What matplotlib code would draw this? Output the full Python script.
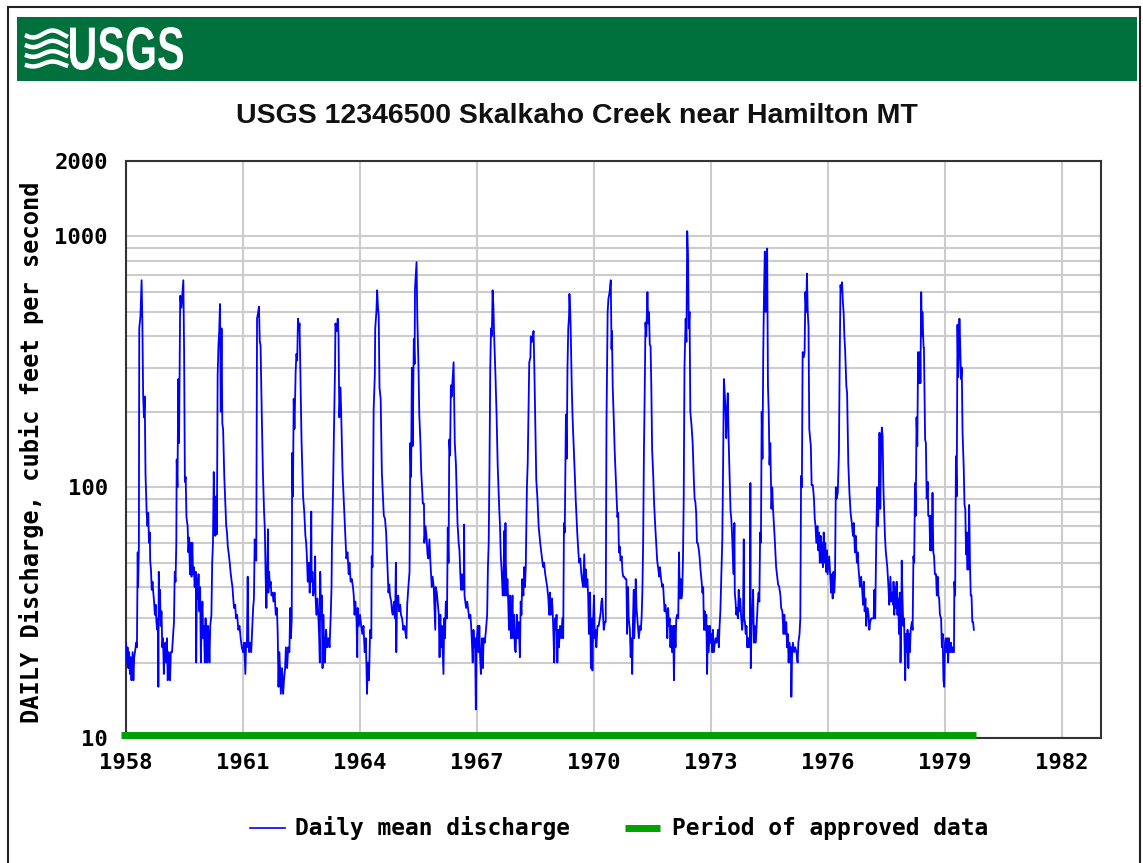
import numpy as np
import matplotlib.pyplot as plt
from matplotlib.lines import Line2D
from matplotlib.patches import Rectangle, PathPatch
from matplotlib.textpath import TextPath
from matplotlib.font_manager import FontProperties
from matplotlib.ticker import LogLocator, NullFormatter
from matplotlib import transforms

# Daily mean discharge, cubic feet per second
# (decimal year, cfs)
flow_1958_1961 = [
    (1958.00, 24), (1958.02, 20), (1958.04, 23), (1958.06, 19), (1958.08, 22),
    (1958.10, 18), (1958.12, 21), (1958.14, 17), (1958.17, 22), (1958.19, 17),
    (1958.21, 21), (1958.23, 22), (1958.26, 24), (1958.28, 23), (1958.30, 55),
    (1958.31, 40), (1958.33, 58), (1958.34, 430), (1958.37, 480), (1958.40, 669),
    (1958.42, 450), (1958.44, 230), (1958.46, 190), (1958.48, 230), (1958.50, 113),
    (1958.53, 79), (1958.55, 70), (1958.57, 79), (1958.59, 60), (1958.61, 66),
    (1958.62, 51), (1958.64, 47), (1958.66, 39), (1958.68, 42), (1958.70, 38),
    (1958.72, 35), (1958.74, 31), (1958.76, 34), (1958.78, 29), (1958.80, 27),
    (1958.82, 30), (1958.83, 16), (1958.84, 46), (1958.86, 30), (1958.87, 39),
    (1958.89, 28), (1958.91, 32), (1958.93, 23), (1958.95, 25), (1958.97, 18),
    (1958.99, 22), (1959.01, 24), (1959.03, 20), (1959.05, 25), (1959.07, 17),
    (1959.09, 22), (1959.11, 19), (1959.13, 17), (1959.15, 22), (1959.18, 22),
    (1959.21, 26), (1959.23, 29), (1959.25, 46), (1959.27, 42), (1959.29, 60),
    (1959.30, 129), (1959.32, 100), (1959.34, 270), (1959.36, 150), (1959.39, 580),
    (1959.42, 520), (1959.45, 600), (1959.47, 669), (1959.49, 346), (1959.51, 105),
    (1959.53, 110), (1959.55, 76), (1959.58, 70), (1959.60, 55), (1959.62, 63),
    (1959.64, 45), (1959.66, 60), (1959.68, 44), (1959.70, 60), (1959.72, 45),
    (1959.74, 48), (1959.76, 40), (1959.79, 46), (1959.80, 20), (1959.82, 43),
    (1959.84, 36), (1959.86, 45), (1959.88, 32), (1959.90, 40), (1959.92, 20),
    (1959.94, 30), (1959.96, 35), (1959.98, 25), (1960.00, 28), (1960.02, 20),
    (1960.04, 30), (1960.06, 24), (1960.08, 20), (1960.10, 28), (1960.12, 25),
    (1960.14, 20), (1960.16, 28), (1960.19, 31), (1960.21, 50), (1960.23, 60),
    (1960.25, 115), (1960.27, 75), (1960.29, 64), (1960.31, 92), (1960.33, 65),
    (1960.35, 280), (1960.37, 366), (1960.39, 420), (1960.41, 538), (1960.43, 200),
    (1960.45, 430), (1960.47, 180), (1960.49, 170), (1960.52, 110), (1960.54, 92),
    (1960.57, 70), (1960.59, 66), (1960.61, 58), (1960.63, 55), (1960.66, 50),
    (1960.68, 46), (1960.71, 42), (1960.73, 40), (1960.75, 36), (1960.77, 33),
    (1960.80, 34), (1960.82, 30), (1960.85, 31), (1960.88, 27), (1960.91, 28),
    (1960.94, 25), (1960.97, 23), (1961.00, 22), (1961.03, 24), (1961.06, 18),
    (1961.08, 24), (1961.10, 23), (1961.12, 44), (1961.14, 24), (1961.16, 22),
    (1961.18, 24), (1961.21, 22), (1961.24, 28), (1961.26, 33), (1961.28, 36),
    (1961.30, 62), (1961.32, 55), (1961.34, 51), (1961.36, 470), (1961.39, 500),
    (1961.41, 525), (1961.43, 380), (1961.45, 370), (1961.48, 200), (1961.51, 115),
    (1961.54, 80), (1961.56, 68), (1961.58, 44), (1961.60, 33), (1961.62, 45),
    (1961.64, 68), (1961.65, 38), (1961.67, 46), (1961.69, 40), (1961.71, 42),
    (1961.73, 37), (1961.76, 38), (1961.78, 35),
]

flow_1962_1965 = [
    (1961.81, 38), (1961.84, 31), (1961.87, 33), (1961.89, 26), (1961.91, 16),
    (1961.93, 22), (1961.95, 19), (1961.97, 15), (1962.00, 19), (1962.03, 15),
    (1962.05, 17), (1962.08, 19), (1962.10, 23), (1962.13, 19), (1962.16, 23),
    (1962.19, 22), (1962.21, 33), (1962.23, 25), (1962.25, 30), (1962.26, 137),
    (1962.28, 92), (1962.30, 225), (1962.32, 171), (1962.35, 290), (1962.37, 340),
    (1962.39, 320), (1962.41, 470), (1962.43, 420), (1962.45, 450), (1962.47, 300),
    (1962.50, 155), (1962.54, 92), (1962.57, 80), (1962.60, 64), (1962.62, 60),
    (1962.64, 52), (1962.66, 42), (1962.69, 50), (1962.71, 38), (1962.73, 45),
    (1962.75, 80), (1962.76, 42), (1962.78, 46), (1962.80, 37), (1962.83, 40),
    (1962.85, 53), (1962.86, 37), (1962.88, 31), (1962.91, 36), (1962.93, 31),
    (1962.95, 26), (1962.97, 20), (1962.98, 46), (1963.00, 30), (1963.02, 37),
    (1963.04, 19), (1963.06, 31), (1963.08, 24), (1963.10, 20), (1963.13, 27),
    (1963.16, 23), (1963.19, 25), (1963.22, 23), (1963.25, 31), (1963.27, 40),
    (1963.28, 58), (1963.31, 100), (1963.33, 160), (1963.36, 300), (1963.37, 450),
    (1963.40, 420), (1963.43, 470), (1963.45, 400), (1963.47, 190), (1963.50, 250),
    (1963.52, 190), (1963.55, 118), (1963.56, 107), (1963.60, 77), (1963.62, 66),
    (1963.65, 52), (1963.68, 55), (1963.71, 45), (1963.73, 50), (1963.76, 42),
    (1963.79, 43), (1963.82, 40), (1963.84, 37), (1963.86, 31), (1963.88, 35),
    (1963.91, 30), (1963.93, 21), (1963.94, 33), (1963.97, 28), (1964.00, 31),
    (1964.03, 28), (1964.06, 26), (1964.09, 28), (1964.12, 22), (1964.15, 25),
    (1964.18, 15), (1964.20, 20), (1964.23, 17), (1964.25, 23), (1964.26, 27),
    (1964.29, 25), (1964.30, 53), (1964.32, 48), (1964.35, 205), (1964.38, 280),
    (1964.39, 430), (1964.42, 500), (1964.44, 610), (1964.46, 524), (1964.48, 480),
    (1964.50, 250), (1964.53, 225), (1964.55, 146), (1964.56, 115), (1964.59, 90),
    (1964.61, 77), (1964.64, 75), (1964.67, 66), (1964.70, 50), (1964.71, 46),
    (1964.73, 38), (1964.75, 41), (1964.77, 37), (1964.80, 35), (1964.82, 32),
    (1964.84, 31), (1964.87, 35), (1964.90, 30), (1964.92, 50), (1964.93, 22),
    (1964.95, 36), (1964.98, 37), (1965.00, 32), (1965.03, 34), (1965.05, 31),
    (1965.08, 30), (1965.11, 27), (1965.14, 28), (1965.17, 26), (1965.19, 25),
    (1965.21, 34), (1965.24, 40), (1965.27, 46), (1965.29, 150), (1965.31, 110),
    (1965.33, 300), (1965.35, 146), (1965.38, 390), (1965.40, 310), (1965.41, 620),
    (1965.43, 700), (1965.45, 790), (1965.47, 470), (1965.50, 300), (1965.52, 195),
    (1965.55, 150), (1965.57, 115), (1965.60, 94), (1965.61, 86), (1965.64, 86),
    (1965.65, 60), (1965.68, 70), (1965.71, 62), (1965.73, 54), (1965.75, 52),
]

flow_1966_1969 = [
    (1965.78, 62), (1965.80, 52), (1965.82, 46), (1965.84, 40), (1965.86, 44),
    (1965.89, 40), (1965.93, 27), (1965.94, 40), (1965.97, 38), (1965.99, 35),
    (1966.02, 31), (1966.04, 21), (1966.06, 31), (1966.08, 23), (1966.10, 28),
    (1966.14, 18), (1966.16, 30), (1966.18, 25), (1966.20, 35), (1966.23, 30),
    (1966.25, 69), (1966.27, 50), (1966.29, 155), (1966.31, 134), (1966.33, 255),
    (1966.35, 230), (1966.38, 280), (1966.40, 315), (1966.42, 199), (1966.43, 151),
    (1966.46, 123), (1966.50, 72), (1966.53, 60), (1966.55, 56), (1966.57, 46),
    (1966.59, 39), (1966.61, 45), (1966.63, 39), (1966.66, 40), (1966.67, 71),
    (1966.68, 37), (1966.72, 33), (1966.75, 35), (1966.78, 32), (1966.80, 30),
    (1966.83, 31), (1966.85, 28), (1966.87, 24), (1966.89, 20), (1966.91, 27),
    (1966.93, 23), (1966.95, 25), (1966.97, 13), (1966.99, 24), (1967.02, 28),
    (1967.04, 22), (1967.06, 28), (1967.08, 21), (1967.10, 18), (1967.13, 25),
    (1967.15, 19), (1967.17, 25), (1967.20, 24), (1967.23, 27), (1967.26, 31),
    (1967.28, 48), (1967.30, 60), (1967.32, 120), (1967.34, 300), (1967.36, 430),
    (1967.38, 400), (1967.40, 610), (1967.42, 530), (1967.44, 400), (1967.47, 290),
    (1967.50, 200), (1967.53, 123), (1967.57, 82), (1967.59, 70), (1967.61, 53),
    (1967.63, 47), (1967.66, 37), (1967.68, 45), (1967.70, 67), (1967.71, 37),
    (1967.73, 72), (1967.74, 50), (1967.76, 37), (1967.78, 43), (1967.80, 35),
    (1967.82, 27), (1967.84, 37), (1967.87, 25), (1967.89, 30), (1967.91, 37),
    (1967.93, 25), (1967.95, 31), (1967.97, 23), (1967.99, 22), (1968.02, 31),
    (1968.04, 25), (1968.07, 29), (1968.10, 21), (1968.12, 35), (1968.14, 31),
    (1968.16, 43), (1968.19, 37), (1968.21, 48), (1968.23, 40), (1968.25, 48),
    (1968.28, 100), (1968.30, 125), (1968.32, 200), (1968.34, 315), (1968.37, 330),
    (1968.38, 400), (1968.41, 380), (1968.43, 400), (1968.45, 420), (1968.47, 300),
    (1968.49, 199), (1968.52, 107), (1968.55, 90), (1968.58, 70), (1968.60, 65),
    (1968.62, 60), (1968.65, 55), (1968.68, 50), (1968.70, 48), (1968.72, 50),
    (1968.75, 45), (1968.78, 42), (1968.80, 40), (1968.83, 36), (1968.85, 31),
    (1968.87, 38), (1968.89, 31), (1968.92, 36), (1968.94, 32), (1968.96, 26),
    (1968.98, 20), (1969.00, 30), (1969.02, 27), (1969.04, 31), (1969.06, 20),
    (1969.08, 27), (1969.10, 23), (1969.13, 28), (1969.16, 25), (1969.19, 30),
    (1969.21, 25), (1969.23, 72), (1969.25, 66), (1969.28, 195), (1969.30, 130),
    (1969.32, 300), (1969.34, 430), (1969.36, 480), (1969.37, 590), (1969.39, 500),
    (1969.40, 445), (1969.43, 250), (1969.45, 190), (1969.48, 146), (1969.51, 110),
    (1969.53, 90), (1969.57, 66), (1969.60, 55), (1969.62, 50), (1969.65, 52),
    (1969.67, 46), (1969.69, 43), (1969.72, 40),
]

flow_1970_1973 = [
    (1969.75, 54), (1969.77, 40), (1969.79, 47), (1969.81, 40), (1969.83, 43),
    (1969.85, 37), (1969.87, 26), (1969.90, 38), (1969.92, 19), (1969.94, 30),
    (1969.96, 18.6), (1969.98, 30), (1970.00, 37), (1970.02, 25), (1970.04, 27),
    (1970.06, 23), (1970.09, 28), (1970.12, 28), (1970.15, 30), (1970.17, 31.5),
    (1970.19, 35), (1970.21, 36), (1970.23, 31), (1970.25, 27), (1970.28, 29),
    (1970.30, 29), (1970.32, 180), (1970.35, 500), (1970.37, 565), (1970.40, 600),
    (1970.43, 669), (1970.45, 355), (1970.46, 420), (1970.48, 250), (1970.51, 181),
    (1970.53, 140), (1970.56, 107), (1970.58, 90), (1970.60, 76), (1970.62, 79),
    (1970.64, 55), (1970.66, 58), (1970.68, 51), (1970.71, 53), (1970.73, 46),
    (1970.75, 44), (1970.77, 44), (1970.81, 43), (1970.83, 43), (1970.85, 26),
    (1970.87, 40), (1970.89, 30), (1970.92, 27), (1970.94, 21), (1970.96, 25),
    (1970.98, 18), (1971.00, 30), (1971.02, 39), (1971.03, 25), (1971.05, 30),
    (1971.07, 43), (1971.09, 33), (1971.11, 30), (1971.13, 27), (1971.15, 25),
    (1971.18, 28), (1971.20, 27), (1971.22, 30), (1971.24, 38), (1971.26, 60),
    (1971.28, 138), (1971.30, 237), (1971.32, 454), (1971.34, 400), (1971.37, 600),
    (1971.39, 450), (1971.41, 500), (1971.43, 370), (1971.45, 367), (1971.47, 250),
    (1971.49, 142), (1971.52, 110), (1971.54, 87), (1971.57, 70), (1971.59, 62),
    (1971.61, 55), (1971.62, 51), (1971.65, 47), (1971.67, 44), (1971.69, 48),
    (1971.72, 43), (1971.75, 40), (1971.77, 41), (1971.79, 36), (1971.81, 32),
    (1971.83, 34), (1971.86, 31), (1971.88, 25), (1971.90, 33), (1971.92, 28),
    (1971.94, 30), (1971.96, 23), (1971.98, 28), (1972.00, 22), (1972.03, 28),
    (1972.05, 17), (1972.07, 28), (1972.09, 23), (1972.11, 30), (1972.13, 31),
    (1972.16, 30), (1972.18, 55), (1972.20, 36), (1972.22, 43), (1972.24, 36),
    (1972.26, 38), (1972.28, 50), (1972.30, 89), (1972.32, 300), (1972.35, 470),
    (1972.37, 380), (1972.39, 1050), (1972.41, 850), (1972.43, 430), (1972.45, 500),
    (1972.47, 200), (1972.50, 177), (1972.53, 150), (1972.56, 107), (1972.58, 90),
    (1972.60, 87), (1972.62, 79), (1972.64, 60), (1972.66, 60), (1972.69, 56),
    (1972.71, 52), (1972.73, 47), (1972.76, 42), (1972.78, 38), (1972.80, 40),
    (1972.82, 27), (1972.84, 32), (1972.86, 27), (1972.88, 31), (1972.90, 18),
    (1972.92, 28), (1972.94, 22), (1972.97, 28), (1972.99, 24), (1973.01, 26),
    (1973.03, 22), (1973.05, 27), (1973.07, 22), (1973.10, 24), (1973.12, 25),
    (1973.14, 24), (1973.16, 25), (1973.18, 27), (1973.20, 23), (1973.22, 28),
    (1973.24, 32), (1973.27, 47), (1973.29, 62), (1973.31, 120), (1973.33, 270),
    (1973.35, 240), (1973.37, 207), (1973.39, 157), (1973.41, 200), (1973.43, 237),
    (1973.45, 160), (1973.47, 122), (1973.50, 81), (1973.52, 75), (1973.54, 65),
    (1973.56, 53), (1973.58, 45), (1973.60, 72), (1973.61, 38), (1973.63, 35),
    (1973.65, 31), (1973.67, 33), (1973.69, 30),
]

flow_1974_1977 = [
    (1973.71, 39), (1973.73, 32), (1973.75, 36), (1973.77, 31), (1973.80, 27),
    (1973.82, 30), (1973.84, 62), (1973.85, 30), (1973.87, 29), (1973.89, 26),
    (1973.91, 28), (1973.93, 23), (1973.95, 25), (1973.97, 23), (1974.00, 26),
    (1974.01, 104), (1974.02, 19), (1974.04, 28), (1974.06, 32), (1974.08, 39),
    (1974.10, 24), (1974.12, 28), (1974.14, 24), (1974.16, 26), (1974.18, 30),
    (1974.20, 35), (1974.22, 38), (1974.24, 35), (1974.26, 66), (1974.28, 60),
    (1974.30, 200), (1974.32, 130), (1974.34, 346), (1974.36, 600), (1974.38, 870),
    (1974.40, 500), (1974.42, 700), (1974.44, 895), (1974.46, 254), (1974.48, 200),
    (1974.50, 123), (1974.52, 150), (1974.55, 82), (1974.57, 100), (1974.59, 82),
    (1974.63, 64), (1974.67, 48), (1974.72, 41), (1974.75, 40), (1974.78, 37),
    (1974.80, 33), (1974.83, 32), (1974.86, 26), (1974.88, 31), (1974.90, 26),
    (1974.93, 29), (1974.95, 23), (1974.97, 26), (1974.99, 20), (1975.01, 24),
    (1975.03, 20), (1975.05, 23), (1975.06, 14.6), (1975.08, 22), (1975.10, 24),
    (1975.13, 22), (1975.16, 23), (1975.19, 22), (1975.22, 20), (1975.24, 24),
    (1975.27, 26), (1975.29, 30), (1975.31, 111), (1975.33, 100), (1975.35, 346),
    (1975.38, 330), (1975.40, 346), (1975.42, 600), (1975.44, 500), (1975.46, 711),
    (1975.48, 500), (1975.50, 440), (1975.52, 171), (1975.54, 157), (1975.56, 146),
    (1975.58, 102), (1975.61, 102), (1975.64, 90), (1975.66, 75), (1975.68, 70),
    (1975.70, 60), (1975.73, 70), (1975.75, 56), (1975.77, 66), (1975.79, 50),
    (1975.81, 64), (1975.83, 50), (1975.85, 60), (1975.87, 48), (1975.89, 66),
    (1975.91, 50), (1975.93, 60), (1975.95, 46), (1975.97, 56), (1975.99, 45),
    (1976.03, 53), (1976.06, 43), (1976.08, 38), (1976.10, 45), (1976.12, 36),
    (1976.14, 46), (1976.16, 38), (1976.18, 44), (1976.20, 100), (1976.22, 90),
    (1976.25, 95), (1976.28, 138), (1976.30, 320), (1976.32, 640), (1976.34, 600),
    (1976.36, 657), (1976.38, 550), (1976.40, 500), (1976.42, 400), (1976.44, 350),
    (1976.47, 254), (1976.49, 237), (1976.52, 125), (1976.55, 95), (1976.58, 79),
    (1976.61, 72), (1976.64, 64), (1976.66, 72), (1976.69, 55), (1976.71, 64),
    (1976.74, 50), (1976.76, 55), (1976.78, 48), (1976.80, 44), (1976.82, 40),
    (1976.85, 44), (1976.87, 40), (1976.90, 34), (1976.92, 42), (1976.94, 32),
    (1976.96, 36), (1976.98, 28), (1977.01, 33), (1977.04, 31), (1977.06, 27),
    (1977.08, 29), (1977.11, 30), (1977.14, 30), (1977.17, 30), (1977.19, 39),
    (1977.21, 30), (1977.24, 66), (1977.26, 100), (1977.28, 70), (1977.30, 90),
    (1977.32, 165), (1977.34, 82), (1977.36, 140), (1977.38, 173), (1977.40, 160),
    (1977.42, 100), (1977.44, 79), (1977.46, 64), (1977.48, 56), (1977.52, 48),
    (1977.55, 40), (1977.57, 34), (1977.60, 44), (1977.62, 35), (1977.65, 38),
    (1977.67, 34),
]

flow_1978_1979 = [
    (1977.68, 42), (1977.70, 31), (1977.72, 40), (1977.74, 33), (1977.76, 42),
    (1977.78, 31), (1977.80, 36), (1977.82, 26), (1977.84, 38), (1977.86, 20),
    (1977.88, 30), (1977.89, 51), (1977.91, 36), (1977.93, 28), (1977.95, 30),
    (1977.98, 17), (1978.00, 26), (1978.02, 22), (1978.04, 27), (1978.06, 19),
    (1978.08, 26), (1978.10, 22), (1978.12, 27), (1978.15, 29), (1978.17, 27),
    (1978.19, 53), (1978.21, 50), (1978.23, 104), (1978.25, 77), (1978.27, 190),
    (1978.29, 146), (1978.31, 346), (1978.33, 260), (1978.36, 346), (1978.37, 260),
    (1978.39, 600), (1978.41, 400), (1978.42, 500), (1978.45, 360), (1978.46, 360),
    (1978.49, 155), (1978.51, 150), (1978.53, 90), (1978.56, 105), (1978.57, 77),
    (1978.60, 77), (1978.62, 56), (1978.64, 77), (1978.66, 56), (1978.68, 95),
    (1978.70, 55), (1978.72, 53), (1978.74, 45), (1978.77, 45), (1978.79, 37),
    (1978.81, 44), (1978.83, 37), (1978.85, 36), (1978.87, 31), (1978.90, 30),
    (1978.92, 23), (1978.94, 26), (1978.96, 17), (1978.98, 16), (1979.00, 24),
    (1979.02, 25), (1979.04, 22), (1979.06, 25), (1979.08, 20), (1979.10, 25),
    (1979.13, 22), (1979.15, 24), (1979.17, 22), (1979.19, 23), (1979.21, 22),
    (1979.23, 22), (1979.24, 42), (1979.26, 37), (1979.28, 133), (1979.30, 92),
    (1979.32, 445), (1979.34, 275), (1979.37, 470), (1979.39, 367), (1979.41, 270),
    (1979.43, 300), (1979.45, 165), (1979.48, 120), (1979.50, 85), (1979.52, 82),
    (1979.54, 54), (1979.56, 66), (1979.57, 47), (1979.60, 47), (1979.62, 85),
    (1979.64, 50), (1979.66, 37), (1979.68, 37), (1979.70, 29), (1979.72, 29),
    (1979.74, 27),
]

approved_period = [1957.88, 1979.80]
x_ticks = [1958, 1961, 1964, 1967, 1970, 1973, 1976, 1979, 1982]
y_ticks = [10, 100, 1000, 2000]

title = "USGS 12346500 Skalkaho Creek near Hamilton MT"
y_label = "DAILY Discharge, cubic feet per second"

segments = [flow_1958_1961, flow_1962_1965, flow_1966_1969,
            flow_1970_1973, flow_1974_1977, flow_1978_1979]
years = [t for seg in segments for t, q in seg]
flows = [q for seg in segments for t, q in seg]

W, H = 1143, 863
def fx(px):
    return px / W
def fy(py):
    return 1 - py / H

mono = FontProperties(family="DejaVu Sans Mono", weight="bold", size=16)
blue = "#0000FF"
green = "#00A000"

fig = plt.figure(figsize=(W / 100, H / 100), dpi=100)
fig.patch.set_facecolor("white")

# outer border and USGS header
fig.add_artist(Rectangle((fx(8), fy(880)), fx(1140) - fx(8), fy(7) - fy(880),
                         transform=fig.transFigure, fill=False,
                         edgecolor="#222222", lw=1.5))
fig.add_artist(Rectangle((fx(17), fy(81)), fx(1137) - fx(17), fy(17) - fy(81),
                         transform=fig.transFigure, facecolor="#00703C",
                         edgecolor="none"))

tp = TextPath((0, 0), "USGS", size=100,
              prop=FontProperties(family="Liberation Sans", weight="bold"))
bb = tp.get_extents()
tr = (transforms.Affine2D().translate(-bb.x0, -bb.y0)
      .scale(113 / bb.width, 43 / bb.height).translate(70, H - 70))
fig.add_artist(PathPatch(tr.transform_path(tp), facecolor="white",
                         edgecolor="none",
                         transform=transforms.IdentityTransform()))

# wave emblem of the logo
wx = np.linspace(27, 66, 40)
for k, base in enumerate([34, 44, 54, 64]):
    wy = base + 3.5 * np.sin((wx - 27) / 39 * 2 * np.pi + 0.6) * (1 - k * 0.1)
    fig.add_artist(Line2D(fx(wx), fy(wy), color="white", lw=3.2,
                          transform=fig.transFigure))

fig.text(fx(577), fy(116), title, ha="center", va="center",
         fontsize=20.5, fontweight="bold", family="Liberation Sans",
         color="#111111")

ax = fig.add_axes([fx(126), fy(738), fx(1101) - fx(126), fy(161) - fy(738)])
ax.plot(years, flows, color=blue, lw=1.3, zorder=3)

bar_tr = transforms.offset_copy(ax.transData, fig=fig, y=3.5, units="dots")
ax.plot(approved_period, [10, 10], color=green, lw=5, solid_capstyle="butt",
        clip_on=False, transform=bar_tr, zorder=4)

ax.set_yscale("log")
ax.set_xlim(1958, 1983)
ax.set_ylim(10, 2000)
ax.set_xticks(x_ticks)
ax.set_xticklabels([str(v) for v in x_ticks])
ax.set_yticks(y_ticks)
ax.set_yticklabels([str(v) for v in y_ticks])
ax.yaxis.set_minor_locator(LogLocator(base=10, subs=range(2, 10)))
ax.yaxis.set_minor_formatter(NullFormatter())
for lab in ax.get_xticklabels() + ax.get_yticklabels():
    lab.set_fontproperties(mono)
ax.tick_params(which="both", length=0)
ax.tick_params(axis="x", pad=11)
ax.tick_params(axis="y", pad=13)

ax.grid(True, which="major", axis="x", color="#cccccc", lw=1.5)
ax.grid(True, which="both", axis="y", color="#cccccc", lw=1.5)
ax.set_axisbelow(True)
for sp in ax.spines.values():
    sp.set_color("#333333")
    sp.set_linewidth(1.5)

fig.text(fx(32), fy(452), y_label, rotation=90, ha="center", va="center",
         fontproperties=FontProperties(family="DejaVu Sans Mono",
                                       weight="bold", size=17))

# legend
fig.add_artist(Line2D([fx(250), fx(285)], [fy(828), fy(828)], color=blue,
                      lw=1.2, transform=fig.transFigure))
fig.text(fx(295), fy(828), "Daily mean discharge", ha="left", va="center",
         fontproperties=FontProperties(family="DejaVu Sans Mono",
                                       weight="bold", size=16.5))
fig.add_artist(Line2D([fx(625), fx(660)], [fy(828), fy(828)], color=green,
                      lw=5, solid_capstyle="butt", transform=fig.transFigure))
fig.text(fx(672), fy(828), "Period of approved data", ha="left", va="center",
         fontproperties=FontProperties(family="DejaVu Sans Mono",
                                       weight="bold", size=16.5))

fig.savefig("out.png", dpi=100)
